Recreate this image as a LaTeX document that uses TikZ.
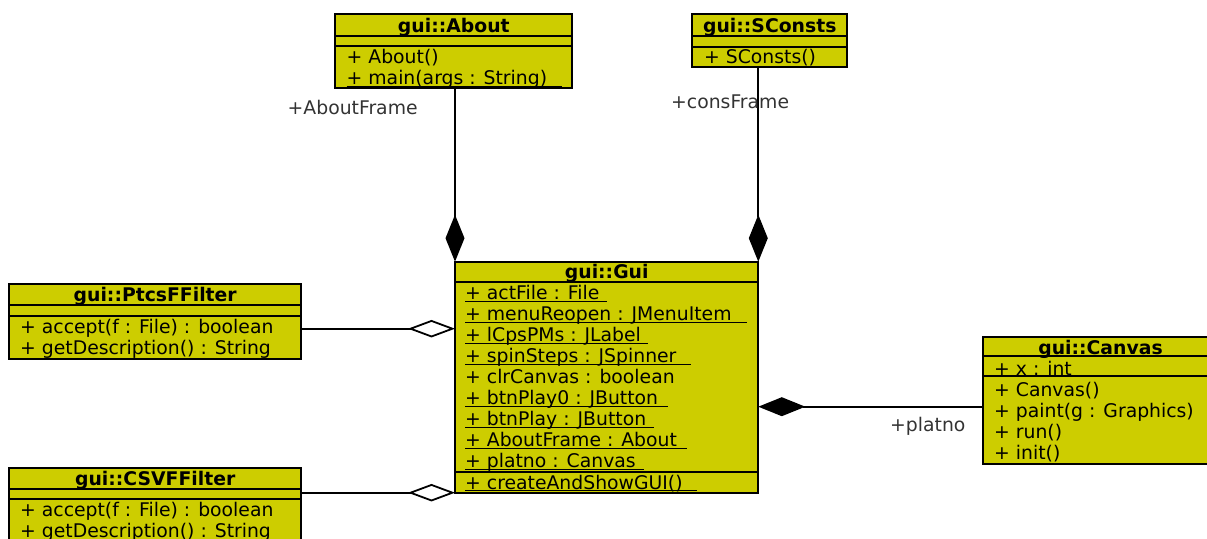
\documentclass[tikz,border=0pt]{standalone}
\usepackage{fontspec}
\setmainfont{DejaVu Sans}
\usetikzlibrary{arrows.meta}
\definecolor{classfill}{RGB}{205,205,0}
\definecolor{rolegray}{RGB}{51,51,51}

\begin{document}
\begin{tikzpicture}[x=1pt,y=-1pt,
  classbox/.style={draw=black, fill=classfill, line width=1.8pt, inner sep=0pt, outer sep=0pt, anchor=north west},
  sep/.style={line width=1.8pt},
  title/.style={font=\fontsize{18.8}{21}\selectfont\bfseries, anchor=base, inner sep=0pt},
  member/.style={font=\fontsize{18.8}{21}\selectfont, anchor=base west, inner sep=0pt},
  role/.style={font=\fontsize{18.8}{21}\selectfont, text=rolegray, anchor=base west, inner sep=0pt},
  ul/.style={line width=1.3pt},
  link/.style={line width=1.8pt},
  comp/.style={link, -{Diamond[length=47pt,width=19pt]}},
  aggr/.style={link, -{Diamond[open,length=47pt,width=17.5pt,fill=white]}},
]
\useasboundingbox (0,0) rectangle (1207,538);
\clip (0,0) rectangle (1207,538);

% ---- class boxes ----
\node[classbox, minimum width=237pt, minimum height=74pt] (about) at (335.3,14) {};
\draw[sep] (about.west |- 0,36.3) -- (about.east |- 0,36.3);
\draw[sep] (about.west |- 0,46.3) -- (about.east |- 0,46.3);
\node[title] (aboutT) at (453.8,32) {gui::About};
\node[member] (a1) at (346.5,63.5) {+ About()};
\node[member] (a2) at (346.5,84) {+ main(args : String)};
\draw[ul] ([yshift=-2.7pt]a2.base west) -- ++(215.5,0);

\node[classbox, minimum width=155pt, minimum height=53.3pt] (sconsts) at (692.3,14) {};
\draw[sep] (sconsts.west |- 0,36.3) -- (sconsts.east |- 0,36.3);
\draw[sep] (sconsts.west |- 0,47) -- (sconsts.east |- 0,47);
\node[title] (sconstsT) at (769.8,32) {gui::SConsts};
\node[member] (s1) at (704,63) {+ SConsts()};

\node[classbox, minimum width=303.3pt, minimum height=231pt] (gui) at (455,261.7) {};
\draw[sep] (gui.west |- 0,282.3) -- (gui.east |- 0,282.3);
\draw[sep] (gui.west |- 0,471.7) -- (gui.east |- 0,471.7);
\node[title] (guiT) at (606.7,278.5) {gui::Gui};
\node[member] (g1) at (465,299) {+ actFile : File};
\node[member] (g2) at (465,320) {+ menuReopen : JMenuItem};
\node[member] (g3) at (465,341) {+ lCpsPMs : JLabel};
\node[member] (g4) at (465,362) {+ spinSteps : JSpinner};
\node[member] (g5) at (465,383) {+ clrCanvas : boolean};
\node[member] (g6) at (465,404) {+ btnPlay0 : JButton};
\node[member] (g7) at (465,425) {+ btnPlay : JButton};
\node[member] (g8) at (465,446) {+ AboutFrame : About};
\node[member] (g9) at (465,467) {+ platno : Canvas};
\node[member] (g10) at (465,489) {+ createAndShowGUI()};
\draw[ul] ([yshift=-2.7pt]g1.base west) -- ++(141.7,0);
\draw[ul] ([yshift=-2.7pt]g2.base west) -- ++(282.3,0);
\draw[ul] ([yshift=-2.7pt]g3.base west) -- ++(183.3,0);
\draw[ul] ([yshift=-2.7pt]g4.base west) -- ++(225.7,0);
\draw[ul] ([yshift=-2.7pt]g6.base west) -- ++(202.7,0);
\draw[ul] ([yshift=-2.7pt]g7.base west) -- ++(189.3,0);
\draw[ul] ([yshift=-2.7pt]g8.base west) -- ++(221.7,0);
\draw[ul] ([yshift=-2.7pt]g9.base west) -- ++(179,0);
\draw[ul] ([yshift=-1.7pt]g10.base west) -- ++(231.7,0);

\node[classbox, minimum width=291.7pt, minimum height=75pt] (ptcs) at (9.3,284) {};
\draw[sep] (ptcs.west |- 0,305) -- (ptcs.east |- 0,305);
\draw[sep] (ptcs.west |- 0,315.7) -- (ptcs.east |- 0,315.7);
\node[title] (ptcsT) at (155.2,301.5) {gui::PtcsFFilter};
\node[member] (p1) at (20,333.3) {+ accept(f : File) : boolean};
\node[member] (p2) at (20,354) {+ getDescription() : String};

\node[classbox, minimum width=291.7pt, minimum height=80pt] (csv) at (9.3,467.7) {};
\draw[sep] (csv.west |- 0,489.3) -- (csv.east |- 0,489.3);
\draw[sep] (csv.west |- 0,499.3) -- (csv.east |- 0,499.3);
\node[title] (csvT) at (155.2,485.5) {gui::CSVFFilter};
\node[member] (c1) at (20,516.7) {+ accept(f : File) : boolean};
\node[member] (c2) at (20,537.5) {+ getDescription() : String};

\node[classbox, minimum width=234.7pt, minimum height=126.7pt] (canvas) at (983.3,337.3) {};
\draw[sep] (canvas.west |- 0,356) -- (canvas.east |- 0,356);
\draw[sep] (canvas.west |- 0,375.7) -- (canvas.east |- 0,375.7);
\node[title] (canvasT) at (1100.5,354) {gui::Canvas};
\node[member] (v1) at (994,375) {+ x : int};
\node[member] (v2) at (994,396.5) {+ Canvas()};
\node[member] (v3) at (994,417.3) {+ paint(g : Graphics)};
\node[member] (v4) at (994,438.3) {+ run()};
\node[member] (v5) at (994,459.5) {+ init()};

% ---- associations ----
\coordinate (ptcsY) at (0,328.7);
\coordinate (canvasY) at (0,406.7);
\draw[comp] (gui.north west |- about.south) -- (gui.north west);
\draw[comp] (gui.north east |- sconsts.south) -- (gui.north east);
\draw[comp] (canvas.west |- canvasY) -- (gui.east |- canvasY);
\draw[aggr] (ptcs.east |- ptcsY) -- (gui.west |- ptcsY);
\draw[aggr] (csv.east |- gui.south west) -- (gui.south west);

% ---- role names ----
\node[role] (rAbout) at (287.5,114) {+AboutFrame};
\node[role] (rCons) at (671,108) {+consFrame};
\node[role] (rPlatno) at (890,431.7) {+platno};
\end{tikzpicture}
\end{document}
